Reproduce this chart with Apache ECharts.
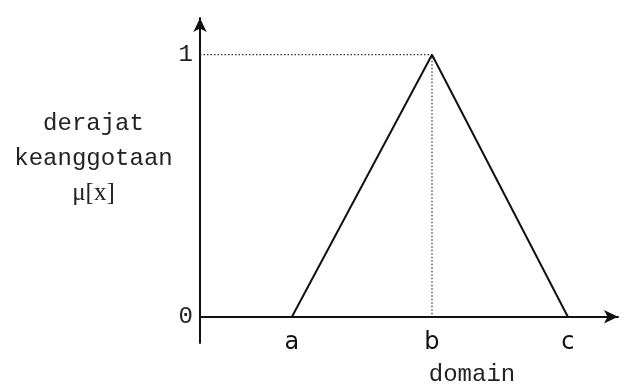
<!DOCTYPE html>
<html>
<head>
<meta charset="utf-8">
<script src="https://cdn.jsdelivr.net/npm/echarts@6/dist/echarts.min.js"></script>
<style>
  html, body { margin: 0; padding: 0; background: #fff; }
  #chart { width: 627px; height: 388px; }
</style>
</head>
<body>
<div id="chart"></div>
<script>
/* kurva keanggotaan segitiga: titik a, b, c */
const pointNames = ['a', 'b', 'c'];
const pointX     = [2.2, 5.55, 8.8];
const pointMu    = [0, 1, 0];
const yTicks     = [0, 1];

const triangle = pointX.map((x, i) => [x, pointMu[i]]);
// garis bantu putus-putus: dari sumbu y ke puncak, lalu turun ke b
const guide = [[0, pointMu[1]], [pointX[1], pointMu[1]], [pointX[1], 0]];

const mono = 'Liberation Mono, Courier New, monospace';

const chart = echarts.init(document.getElementById('chart'), null, { renderer: 'canvas' });

chart.setOption({
  backgroundColor: '#fff',
  animation: false,
  grid: { left: 200, right: 9, top: 18, bottom: 45, containLabel: false, outerBoundsMode: 'none' },
  xAxis: {
    type: 'value',
    min: 0,
    max: 10,
    name: 'domain',
    nameLocation: 'middle',
    nameGap: 20,
    nameTextStyle: { fontFamily: mono, fontSize: 24, color: '#222', padding: [0, 0, 0, 126] },
    splitLine: { show: false },
    axisTick: { show: false },
    axisLine: {
      onZero: true,
      symbol: ['none', 'arrow'],
      symbolSize: [10, 14],
      lineStyle: { color: '#111', width: 2 }
    },
    axisLabel: {
      customValues: pointX,
      formatter: (v) => pointNames[pointX.indexOf(v)] || '',
      margin: -12,
      fontFamily: 'DejaVu Sans, Verdana, sans-serif',
      fontSize: 24,
      color: '#111'
    }
  },
  yAxis: {
    type: 'value',
    min: -0.1,
    max: 1.14,
    name: '{m|derajat}\n{m|keanggotaan}\n{s|μ[x]}',
    nameLocation: 'middle',
    nameRotate: 0,
    nameGap: 95,
    nameTextStyle: {
      align: 'center',
      verticalAlign: 'middle',
      padding: [0, 0, 44, 0],
      rich: {
        m: { fontFamily: mono, fontSize: 24, color: '#222', lineHeight: 35, align: 'center' },
        s: { fontFamily: 'Liberation Serif, Times New Roman, serif', fontSize: 25, color: '#222', lineHeight: 35, align: 'center' }
      }
    },
    splitLine: { show: false },
    axisTick: { show: false },
    axisLine: {
      symbol: ['none', 'arrow'],
      symbolSize: [10, 14],
      lineStyle: { color: '#111', width: 2 }
    },
    axisLabel: {
      customValues: yTicks,
      margin: 7,
      fontFamily: mono,
      fontSize: 24,
      color: '#222'
    }
  },
  series: [
    {
      type: 'line',
      data: guide,
      symbol: 'none',
      lineStyle: { color: '#333', width: 1.2, type: [1.5, 2] },
      z: 1
    },
    {
      type: 'line',
      data: triangle,
      symbol: 'none',
      lineStyle: { color: '#111', width: 2 },
      z: 2
    }
  ]
});
</script>
</body>
</html>
